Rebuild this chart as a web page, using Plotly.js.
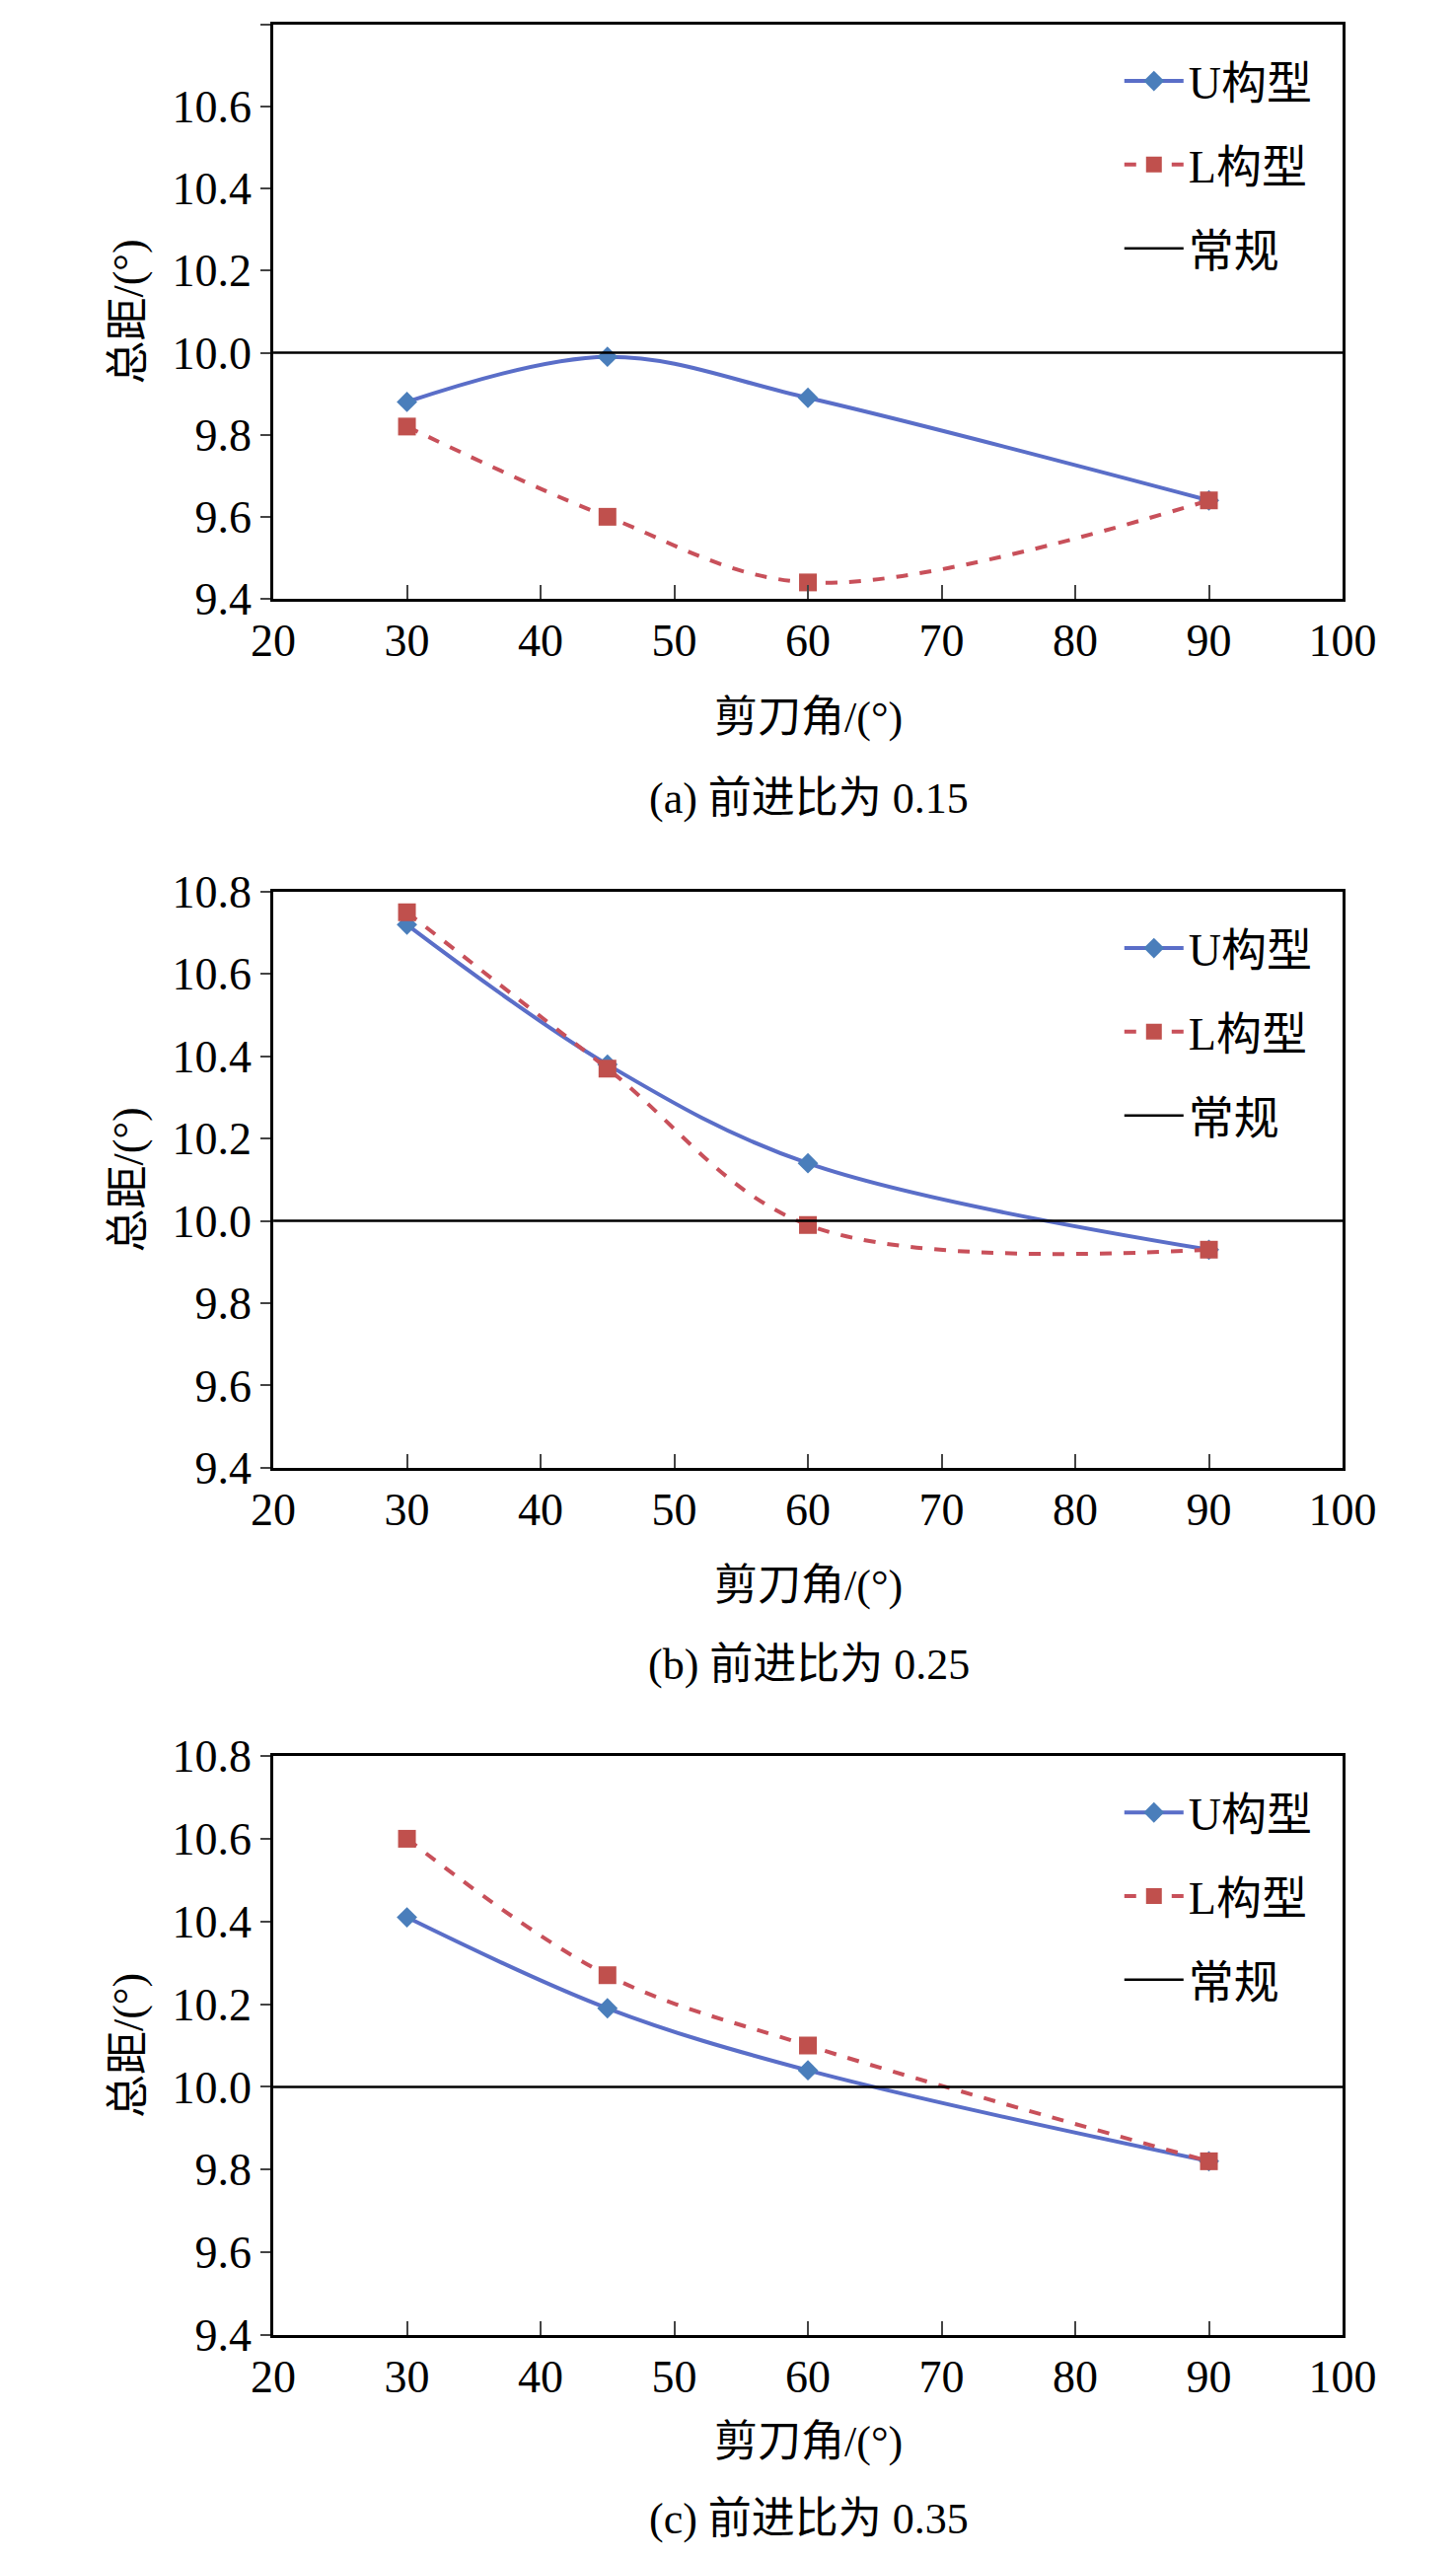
<!DOCTYPE html>
<html lang="en">
<head>
  <meta charset="UTF-8">
  <title>总距</title>
  <script src="https://cdn.plot.ly/plotly-3.0.1.min.js" charset="utf-8"></script>
  <style>body{margin:0;} #chart{width:1476px;height:2593px;}</style>
</head>
<body>
  <div id="chart"></div>
  <script>
    // 剪刀角 (°)
    const angles = [30, 45, 60, 90];
    // 总距 (°) per advance ratio
    const uA = [9.88, 9.99, 9.89, 9.64];
    const lA = [9.82, 9.60, 9.44, 9.64];
    const uB = [10.72, 10.38, 10.14, 9.93];
    const lB = [10.75, 10.37, 9.99, 9.93];
    const uC = [10.41, 10.19, 10.04, 9.82];
    const lC = [10.60, 10.27, 10.10, 9.82];
    const baseX = [20, 100];
    const baseY = [10.0, 10.0];
    const captions = ['(a) 前进比为 0.15', '(b) 前进比为 0.25', '(c) 前进比为 0.35'];

    const font = 'Liberation Serif, Noto Sans CJK SC, serif';
    const panels = [[uA, lA], [uB, lB], [uC, lC]];
    const domains = [[0.7659, 0.9904], [0.4262, 0.6514], [0.0872, 0.3135]];
    const capY = [810, 1687, 2553];
    const xTitleY = [727, 1607, 2475];

    var data = [];
    var layout = {
      width: 1476, height: 2593,
      margin: {l: 0, r: 0, t: 0, b: 0},
      paper_bgcolor: 'white', plot_bgcolor: 'white',
      font: {family: font, size: 46, color: '#000'},
      annotations: [],
      showlegend: true
    };

    panels.forEach(function (p, i) {
      var n = i === 0 ? '' : (i + 1);
      var leg = 'legend' + n;
      data.push({
        x: angles, y: p[0], name: 'U构型', xaxis: 'x' + n, yaxis: 'y' + n, legend: leg,
        legendgroup: 'u' + i,
        mode: 'lines+markers', line: {color: '#5a6ec8', width: 4, shape: 'spline'},
        marker: {symbol: 'diamond', size: 16, color: '#4a7ebb'}
      });
      data.push({
        x: angles, y: p[1], name: 'L构型', xaxis: 'x' + n, yaxis: 'y' + n, legend: leg,
        legendgroup: 'l' + i,
        mode: 'lines+markers', line: {color: '#c8505a', width: 4, dash: 'dash', shape: 'spline'},
        marker: {symbol: 'square', size: 18, color: '#c0504d'}
      });
      data.push({
        x: baseX, y: baseY, name: '常规', xaxis: 'x' + n, yaxis: 'y' + n, legend: leg,
        legendgroup: 'c' + i,
        mode: 'lines', line: {color: '#000', width: 2.5}
      });
      layout['xaxis' + n] = {
        domain: [0.1877, 0.9221], anchor: 'y' + n, range: [20, 100], dtick: 10,
        showgrid: false, zeroline: false, showline: true, mirror: true,
        linecolor: '#000', linewidth: 2.5, ticks: 'inside', ticklen: 14, tickwidth: 2,
        tickfont: {family: font, size: 46}
      };
      layout['yaxis' + n] = {
        domain: domains[i], anchor: 'x' + n, range: [9.4, 10.8], dtick: 0.2,
        tickformat: '.1f', showgrid: false, zeroline: false, showline: true, mirror: true,
        linecolor: '#000', linewidth: 2.5, ticks: 'outside', ticklen: 10, tickwidth: 2,
        tickfont: {family: font, size: 46},
        title: {text: '总距/(°)', font: {family: font, size: 44}, standoff: 16}
      };
      layout[leg] = {
        x: 0.905, y: domains[i][1] - 0.008, xanchor: 'right', yanchor: 'top',
        bgcolor: 'rgba(0,0,0,0)', font: {family: font, size: 46}, itemwidth: 60,
        traceorder: 'grouped', tracegroupgap: 22
      };
      layout.annotations.push({
        text: '剪刀角/(°)', xref: 'paper', yref: 'paper', x: 0.5553, y: 1 - xTitleY[i] / 2593,
        yanchor: 'middle', showarrow: false, font: {family: font, size: 44}
      });
      layout.annotations.push({
        text: captions[i], xref: 'paper', yref: 'paper', x: 0.5553, y: 1 - capY[i] / 2593,
        yanchor: 'middle', showarrow: false, font: {family: font, size: 44}
      });
    });

    Plotly.newPlot('chart', data, layout, {displayModeBar: false});
  </script>
</body>
</html>
